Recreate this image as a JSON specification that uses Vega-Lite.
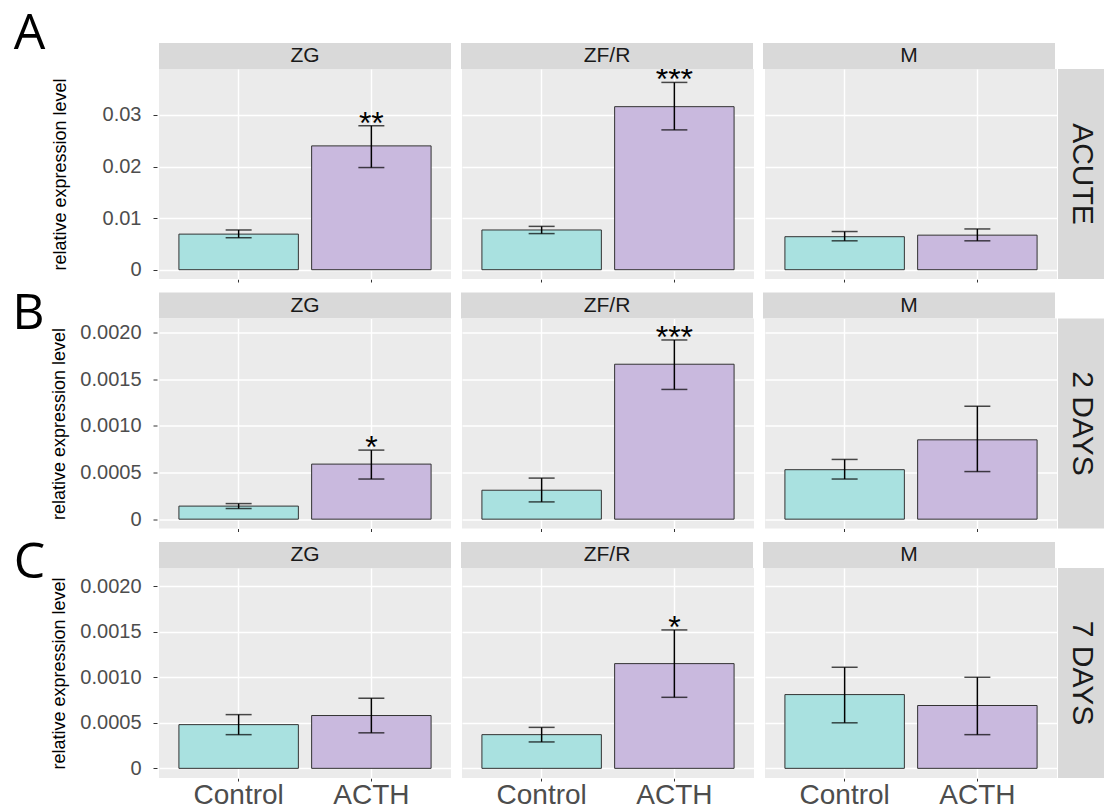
{
  "$schema": "https://vega.github.io/schema/vega-lite/v6.json",
  "padding": {"left": 12, "top": 9, "right": 0, "bottom": 0},
  "autosize": {"type": "pad"},
  "background": "white",
  "config": {
    "font": "Liberation Sans",
    "view": {"stroke": null},
    "axis": {"domain": false, "tickColor": "#333333", "labelColor": "#4D4D4D", "titleColor": "#000000", "titleFontWeight": "normal", "gridColor": "#FFFFFF"},
    "title": {"fontWeight": "normal", "color": "#000000"}
  },
  "datasets": {
    "acute": [
      {"period": "ACUTE", "zone": "ZG", "group": "Control", "mean": 0.0069, "lower": 0.0062, "upper": 0.0077, "sig": ""},
      {"period": "ACUTE", "zone": "ZG", "group": "ACTH", "mean": 0.0240, "lower": 0.0198, "upper": 0.0279, "sig": "**"},
      {"period": "ACUTE", "zone": "ZF/R", "group": "Control", "mean": 0.0077, "lower": 0.0070, "upper": 0.0084, "sig": ""},
      {"period": "ACUTE", "zone": "ZF/R", "group": "ACTH", "mean": 0.0316, "lower": 0.0271, "upper": 0.0363, "sig": "***"},
      {"period": "ACUTE", "zone": "M", "group": "Control", "mean": 0.0064, "lower": 0.0056, "upper": 0.0074, "sig": ""},
      {"period": "ACUTE", "zone": "M", "group": "ACTH", "mean": 0.0067, "lower": 0.0056, "upper": 0.0079, "sig": ""}
    ],
    "d2": [
      {"period": "2 DAYS", "zone": "ZG", "group": "Control", "mean": 0.00014, "lower": 0.000114, "upper": 0.000167, "sig": ""},
      {"period": "2 DAYS", "zone": "ZG", "group": "ACTH", "mean": 0.00059, "lower": 0.00043, "upper": 0.00074, "sig": "*"},
      {"period": "2 DAYS", "zone": "ZF/R", "group": "Control", "mean": 0.00031, "lower": 0.000185, "upper": 0.00044, "sig": ""},
      {"period": "2 DAYS", "zone": "ZF/R", "group": "ACTH", "mean": 0.00166, "lower": 0.00139, "upper": 0.00192, "sig": "***"},
      {"period": "2 DAYS", "zone": "M", "group": "Control", "mean": 0.00053, "lower": 0.00043, "upper": 0.00064, "sig": ""},
      {"period": "2 DAYS", "zone": "M", "group": "ACTH", "mean": 0.00085, "lower": 0.00051, "upper": 0.00121, "sig": ""}
    ],
    "d7": [
      {"period": "7 DAYS", "zone": "ZG", "group": "Control", "mean": 0.00048, "lower": 0.00037, "upper": 0.00059, "sig": ""},
      {"period": "7 DAYS", "zone": "ZG", "group": "ACTH", "mean": 0.00058, "lower": 0.00039, "upper": 0.00077, "sig": ""},
      {"period": "7 DAYS", "zone": "ZF/R", "group": "Control", "mean": 0.00037, "lower": 0.00029, "upper": 0.00045, "sig": ""},
      {"period": "7 DAYS", "zone": "ZF/R", "group": "ACTH", "mean": 0.00115, "lower": 0.00078, "upper": 0.00152, "sig": "*"},
      {"period": "7 DAYS", "zone": "M", "group": "Control", "mean": 0.00081, "lower": 0.0005, "upper": 0.00111, "sig": ""},
      {"period": "7 DAYS", "zone": "M", "group": "ACTH", "mean": 0.00069, "lower": 0.00037, "upper": 0.001, "sig": ""}
    ]
  },
  "vconcat": [
    {
      "title": {"text": "A", "orient": "left", "anchor": "end", "frame": "bounds", "angle": 0, "align": "right", "baseline": "top", "fontSize": 50, "font": "Open Sans", "offset": -26, "dy": -34},
      "spacing": 0,
      "vconcat": [
        {
          "data": {"name": "acute"},
          "transform": [{"filter": "datum.group == 'Control'"}],
          "facet": {"column": {"field": "zone", "type": "nominal", "sort": ["ZG", "ZF/R", "M"], "header": {"labels": false, "title": null}}},
          "spacing": 10,
          "spec": {
            "width": 292, "height": 26,
            "view": {"fill": "#D9D9D9", "stroke": null},
            "layer": [
              {"mark": {"type": "text", "fontSize": 21, "color": "#1A1A1A"}, "encoding": {"text": {"field": "zone"}}},
              {"mark": {"type": "point", "opacity": 0, "size": 1, "clip": true},
               "encoding": {"y": {"field": "mean", "type": "quantitative", "title": "x",
                 "scale": {"domain": [0, 0.06], "nice": false, "zero": false},
                 "axis": {"values": [0.03], "format": ".2f", "grid": false, "labelOverlap": false, "labelColor": "transparent", "tickColor": "transparent", "titleColor": "transparent",
                   "labelFontSize": 20, "tickSize": 4, "offset": 1, "labelPadding": 12, "titleFontSize": 18, "titlePadding": 33}}}}
            ]
          }
        },
        {
          "hconcat": [
            {
              "data": {"name": "acute"},
              "facet": {"column": {"field": "zone", "type": "nominal", "sort": ["ZG", "ZF/R", "M"], "header": {"labels": false, "title": null}}},
              "spacing": 10,
              "spec": {
                "width": 292, "height": 210,
                "view": {"fill": "#EBEBEB", "stroke": null},
                "encoding": {
                  "x": {"field": "group", "type": "nominal", "sort": ["Control", "ACTH"], "title": null,
                    "scale": {"paddingInner": 0.1, "paddingOuter": 0.15},
                    "axis": {"labels": false, "grid": true, "gridColor": "#FFFFFF", "gridWidth": 1.4, "tickSize": 3, "bandPosition": 0.5, "domain": false}}
                },
                "layer": [
                  {
                    "mark": {"type": "bar", "stroke": "#333333", "strokeWidth": 1},
                    "encoding": {
                      "y": {"field": "mean", "type": "quantitative", "title": "relative expression level",
                        "scale": {"domain": [-0.0018, 0.0389], "nice": false, "zero": false},
                        "axis": {
                          "values": [0, 0.005, 0.01, 0.015, 0.02, 0.025, 0.03, 0.035],
                          "labelOverlap": false,
                          "labelExpr": "datum.value == 0 ? '0' : (abs(datum.value*100 - round(datum.value*100)) < 0.001 ? format(datum.value, '.2f') : '')",
                          "gridWidth": {"condition": {"test": "abs(datum.value*100 - round(datum.value*100)) < 0.001", "value": 1.4}, "value": 0.7},
                          "tickOpacity": {"condition": {"test": "abs(datum.value*100 - round(datum.value*100)) < 0.001", "value": 1}, "value": 0},
                          "grid": true, "labelFontSize": 20, "tickSize": 4, "offset": 1, "labelPadding": 12, "titleFontSize": 18, "titlePadding": 33
                        }},
                      "y2": {"datum": 0},
                      "fill": {"field": "group", "type": "nominal", "scale": {"domain": ["Control", "ACTH"], "range": ["#A9E1E0", "#C9B9DE"]}, "legend": null}
                    }
                  },
                  {
                    "mark": {"type": "rule", "color": "#000000", "strokeWidth": 1.5},
                    "encoding": {"y": {"field": "lower", "type": "quantitative", "title": "relative expression level"}, "y2": {"field": "upper"}}
                  },
                  {
                    "mark": {"type": "tick", "color": "#000000", "thickness": 1.5, "size": 26},
                    "encoding": {"y": {"field": "lower", "type": "quantitative", "title": "relative expression level"}}
                  },
                  {
                    "mark": {"type": "tick", "color": "#000000", "thickness": 1.5, "size": 26},
                    "encoding": {"y": {"field": "upper", "type": "quantitative", "title": "relative expression level"}}
                  },
                  {
                    "mark": {"type": "text", "fontSize": 32, "baseline": "alphabetic", "dy": 8, "color": "#000000", "clip": true},
                    "encoding": {"y": {"field": "upper", "type": "quantitative", "title": "relative expression level"}, "text": {"field": "sig"}}
                  }
                ]
              }
            },
            {
              "data": {"name": "acute"},
              "transform": [{"filter": "datum.group == 'Control' && datum.zone == 'ZG'"}],
              "width": 48, "height": 210,
              "view": {"fill": "#D9D9D9", "stroke": null},
              "mark": {"type": "text", "angle": 90, "fontSize": 30, "color": "#1A1A1A"},
              "encoding": {"text": {"field": "period"}}
            }
          ],
          "spacing": 1
        }
      ]
    },
    {
      "title": {"text": "B", "orient": "left", "anchor": "end", "frame": "bounds", "angle": 0, "align": "right", "baseline": "top", "fontSize": 50, "font": "Open Sans", "offset": -26, "dy": -4},
      "spacing": 0,
      "vconcat": [
        {
          "data": {"name": "d2"},
          "transform": [{"filter": "datum.group == 'Control'"}],
          "facet": {"column": {"field": "zone", "type": "nominal", "sort": ["ZG", "ZF/R", "M"], "header": {"labels": false, "title": null}}},
          "spacing": 10,
          "spec": {
            "width": 292, "height": 26,
            "view": {"fill": "#D9D9D9", "stroke": null},
            "layer": [
              {"mark": {"type": "text", "fontSize": 21, "color": "#1A1A1A"}, "encoding": {"text": {"field": "zone"}}},
              {"mark": {"type": "point", "opacity": 0, "size": 1, "clip": true},
               "encoding": {"y": {"field": "mean", "type": "quantitative", "title": "x",
                 "scale": {"domain": [0, 0.004], "nice": false, "zero": false},
                 "axis": {"values": [0.002], "format": ".4f", "grid": false, "labelOverlap": false, "labelColor": "transparent", "tickColor": "transparent", "titleColor": "transparent",
                   "labelFontSize": 20, "tickSize": 4, "offset": 1, "labelPadding": 12, "titleFontSize": 18, "titlePadding": 11}}}}
            ]
          }
        },
        {
          "hconcat": [
            {
              "data": {"name": "d2"},
              "facet": {"column": {"field": "zone", "type": "nominal", "sort": ["ZG", "ZF/R", "M"], "header": {"labels": false, "title": null}}},
              "spacing": 10,
              "spec": {
                "width": 292, "height": 210,
                "view": {"fill": "#EBEBEB", "stroke": null},
                "encoding": {
                  "x": {"field": "group", "type": "nominal", "sort": ["Control", "ACTH"], "title": null,
                    "scale": {"paddingInner": 0.1, "paddingOuter": 0.15},
                    "axis": {"labels": false, "grid": true, "gridColor": "#FFFFFF", "gridWidth": 1.4, "tickSize": 3, "bandPosition": 0.5, "domain": false}}
                },
                "layer": [
                  {
                    "mark": {"type": "bar", "stroke": "#333333", "strokeWidth": 1},
                    "encoding": {
                      "y": {"field": "mean", "type": "quantitative", "title": "relative expression level",
                        "scale": {"domain": [-0.0001, 0.00215], "nice": false, "zero": false},
                        "axis": {
                          "values": [0, 0.00025, 0.0005, 0.00075, 0.001, 0.00125, 0.0015, 0.00175, 0.002],
                          "labelOverlap": false,
                          "labelExpr": "datum.value == 0 ? '0' : (abs(datum.value*2000 - round(datum.value*2000)) < 0.001 ? format(datum.value, '.4f') : '')",
                          "gridWidth": {"condition": {"test": "abs(datum.value*2000 - round(datum.value*2000)) < 0.001", "value": 1.4}, "value": 0.7},
                          "tickOpacity": {"condition": {"test": "abs(datum.value*2000 - round(datum.value*2000)) < 0.001", "value": 1}, "value": 0},
                          "grid": true, "labelFontSize": 20, "tickSize": 4, "offset": 1, "labelPadding": 12, "titleFontSize": 18, "titlePadding": 11
                        }},
                      "y2": {"datum": 0},
                      "fill": {"field": "group", "type": "nominal", "scale": {"domain": ["Control", "ACTH"], "range": ["#A9E1E0", "#C9B9DE"]}, "legend": null}
                    }
                  },
                  {
                    "mark": {"type": "rule", "color": "#000000", "strokeWidth": 1.5},
                    "encoding": {"y": {"field": "lower", "type": "quantitative", "title": "relative expression level"}, "y2": {"field": "upper"}}
                  },
                  {
                    "mark": {"type": "tick", "color": "#000000", "thickness": 1.5, "size": 26},
                    "encoding": {"y": {"field": "lower", "type": "quantitative", "title": "relative expression level"}}
                  },
                  {
                    "mark": {"type": "tick", "color": "#000000", "thickness": 1.5, "size": 26},
                    "encoding": {"y": {"field": "upper", "type": "quantitative", "title": "relative expression level"}}
                  },
                  {
                    "mark": {"type": "text", "fontSize": 32, "baseline": "alphabetic", "dy": 8, "color": "#000000", "clip": true},
                    "encoding": {"y": {"field": "upper", "type": "quantitative", "title": "relative expression level"}, "text": {"field": "sig"}}
                  }
                ]
              }
            },
            {
              "data": {"name": "d2"},
              "transform": [{"filter": "datum.group == 'Control' && datum.zone == 'ZG'"}],
              "width": 48, "height": 210,
              "view": {"fill": "#D9D9D9", "stroke": null},
              "mark": {"type": "text", "angle": 90, "fontSize": 30, "color": "#1A1A1A"},
              "encoding": {"text": {"field": "period"}}
            }
          ],
          "spacing": 1
        }
      ]
    },
    {
      "title": {"text": "C", "orient": "left", "anchor": "end", "frame": "bounds", "angle": 0, "align": "right", "baseline": "top", "fontSize": 50, "font": "Open Sans", "offset": -26, "dy": -4},
      "spacing": 0,
      "vconcat": [
        {
          "data": {"name": "d7"},
          "transform": [{"filter": "datum.group == 'Control'"}],
          "facet": {"column": {"field": "zone", "type": "nominal", "sort": ["ZG", "ZF/R", "M"], "header": {"labels": false, "title": null}}},
          "spacing": 10,
          "spec": {
            "width": 292, "height": 26,
            "view": {"fill": "#D9D9D9", "stroke": null},
            "layer": [
              {"mark": {"type": "text", "fontSize": 21, "color": "#1A1A1A"}, "encoding": {"text": {"field": "zone"}}},
              {"mark": {"type": "point", "opacity": 0, "size": 1, "clip": true},
               "encoding": {"y": {"field": "mean", "type": "quantitative", "title": "x",
                 "scale": {"domain": [0, 0.004], "nice": false, "zero": false},
                 "axis": {"values": [0.002], "format": ".4f", "grid": false, "labelOverlap": false, "labelColor": "transparent", "tickColor": "transparent", "titleColor": "transparent",
                   "labelFontSize": 20, "tickSize": 4, "offset": 1, "labelPadding": 12, "titleFontSize": 18, "titlePadding": 11}}}}
            ]
          }
        },
        {
          "hconcat": [
            {
              "data": {"name": "d7"},
              "facet": {"column": {"field": "zone", "type": "nominal", "sort": ["ZG", "ZF/R", "M"], "header": {"labels": false, "title": null}}},
              "spacing": 10,
              "spec": {
                "width": 292, "height": 210,
                "view": {"fill": "#EBEBEB", "stroke": null},
                "encoding": {
                  "x": {"field": "group", "type": "nominal", "sort": ["Control", "ACTH"], "title": null,
                    "scale": {"paddingInner": 0.1, "paddingOuter": 0.15},
                    "axis": {"labels": true, "labelAngle": 0, "labelFontSize": 28, "labelPadding": 0, "grid": true, "gridColor": "#FFFFFF", "gridWidth": 1.4, "tickSize": 3, "bandPosition": 0.5, "domain": false}}
                },
                "layer": [
                  {
                    "mark": {"type": "bar", "stroke": "#333333", "strokeWidth": 1},
                    "encoding": {
                      "y": {"field": "mean", "type": "quantitative", "title": "relative expression level",
                        "scale": {"domain": [-0.000106, 0.0022], "nice": false, "zero": false},
                        "axis": {
                          "values": [0, 0.00025, 0.0005, 0.00075, 0.001, 0.00125, 0.0015, 0.00175, 0.002],
                          "labelOverlap": false,
                          "labelExpr": "datum.value == 0 ? '0' : (abs(datum.value*2000 - round(datum.value*2000)) < 0.001 ? format(datum.value, '.4f') : '')",
                          "gridWidth": {"condition": {"test": "abs(datum.value*2000 - round(datum.value*2000)) < 0.001", "value": 1.4}, "value": 0.7},
                          "tickOpacity": {"condition": {"test": "abs(datum.value*2000 - round(datum.value*2000)) < 0.001", "value": 1}, "value": 0},
                          "grid": true, "labelFontSize": 20, "tickSize": 4, "offset": 1, "labelPadding": 12, "titleFontSize": 18, "titlePadding": 11
                        }},
                      "y2": {"datum": 0},
                      "fill": {"field": "group", "type": "nominal", "scale": {"domain": ["Control", "ACTH"], "range": ["#A9E1E0", "#C9B9DE"]}, "legend": null}
                    }
                  },
                  {
                    "mark": {"type": "rule", "color": "#000000", "strokeWidth": 1.5},
                    "encoding": {"y": {"field": "lower", "type": "quantitative", "title": "relative expression level"}, "y2": {"field": "upper"}}
                  },
                  {
                    "mark": {"type": "tick", "color": "#000000", "thickness": 1.5, "size": 26},
                    "encoding": {"y": {"field": "lower", "type": "quantitative", "title": "relative expression level"}}
                  },
                  {
                    "mark": {"type": "tick", "color": "#000000", "thickness": 1.5, "size": 26},
                    "encoding": {"y": {"field": "upper", "type": "quantitative", "title": "relative expression level"}}
                  },
                  {
                    "mark": {"type": "text", "fontSize": 32, "baseline": "alphabetic", "dy": 8, "color": "#000000", "clip": true},
                    "encoding": {"y": {"field": "upper", "type": "quantitative", "title": "relative expression level"}, "text": {"field": "sig"}}
                  }
                ]
              }
            },
            {
              "data": {"name": "d7"},
              "transform": [{"filter": "datum.group == 'Control' && datum.zone == 'ZG'"}],
              "width": 48, "height": 210,
              "view": {"fill": "#D9D9D9", "stroke": null},
              "mark": {"type": "text", "angle": 90, "fontSize": 30, "color": "#1A1A1A"},
              "encoding": {"text": {"field": "period"}}
            }
          ],
          "spacing": 1
        }
      ]
    }
  ],
  "spacing": 5.5
}
